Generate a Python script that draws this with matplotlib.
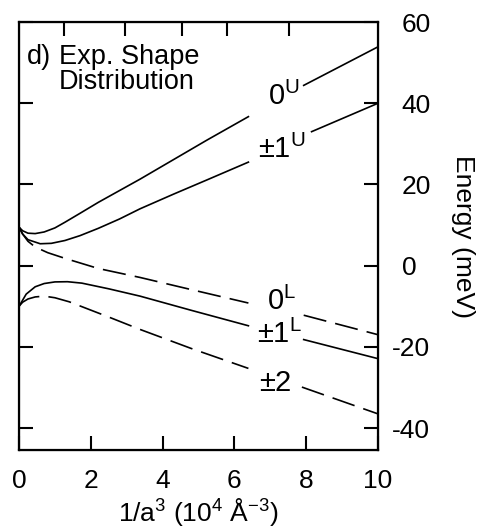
import numpy as np
import matplotlib
matplotlib.use("Agg")
import matplotlib.pyplot as plt
from matplotlib.transforms import ScaledTranslation

plt.rcParams["font.family"] = ["Liberation Sans", "DejaVu Sans"]
plt.rcParams["mathtext.default"] = "regular"
plt.rcParams["axes.unicode_minus"] = False

# curves; each curve is broken where its label sits
x_0u_a = [0, 0.1, 0.25, 0.45, 0.7, 1.0, 1.28, 1.7, 2.21, 2.8, 3.37, 4.3, 5.23, 6.39]
y_0u_a = [9.5, 8.6, 8.0, 7.9, 8.3, 9.3, 10.7, 12.9, 15.6, 18.5, 21.3, 26.1, 30.9, 36.7]
x_0u_b = [7.93, 10.0]
y_0u_b = [44.4, 53.9]

x_1u_a = [0, 0.1, 0.25, 0.59, 0.9, 1.28, 1.7, 2.21, 2.8, 3.37, 4.3, 5.23, 6.39]
y_1u_a = [9.5, 7.8, 6.4, 5.4, 5.5, 6.2, 7.4, 9.2, 11.5, 14.0, 17.6, 21.1, 25.5]
x_1u_b = [8.15, 10.0]
y_1u_b = [33.0, 40.0]

x_0l_a = [0, 0.1, 0.25, 0.45, 0.8, 1.28, 2.21, 3.37, 4.8, 6.39]
y_0l_a = [9.5, 7.8, 6.0, 4.6, 3.2, 1.8, -0.7, -2.9, -5.9, -9.2]
x_0l_b = [7.93, 10.0]
y_0l_b = [-12.2, -17.0]

x_1l_a = [0, 0.08, 0.2, 0.45, 0.7, 1.0, 1.35, 1.75, 2.5, 3.37, 4.8, 6.39]
y_1l_a = [-10.0, -8.8, -7.0, -5.2, -4.4, -4.0, -3.95, -4.3, -5.7, -7.5, -11.0, -14.8]
x_1l_b = [7.93, 10.0]
y_1l_b = [-18.2, -22.9]

x_2_a = [0, 0.1, 0.25, 0.45, 0.7, 1.0, 1.4, 1.84, 2.6, 3.37, 4.8, 6.39]
y_2_a = [-10.0, -9.0, -8.2, -7.7, -7.5, -7.9, -8.9, -10.4, -13.0, -15.7, -20.4, -25.3]
x_2_b = [7.88, 10.0]
y_2_b = [-29.9, -36.5]

curve_labels = [r"$0^{U}$", r"$\pm1^{U}$", r"$0^{L}$", r"$\pm1^{L}$", r"$\pm2$"]
label_x = [7.38, 7.33, 7.3, 7.25, 7.13]
label_y = [41.8, 28.6, -8.7, -17.0, -28.9]

y_ticks = [-40, -20, 0, 20, 40, 60]
x_ticks = [0, 2, 4, 6, 8, 10]
top_a = [20, 15, 13, 12, 11]  # lattice constant a (Angstrom) marked on top axis

fig = plt.figure(figsize=(4.84, 5.31), dpi=100)
ax = fig.add_axes([0.0393, 0.1525, 0.7417, 0.806])

lw = 1.2
dash = (0, (14, 5.5))
ax.plot(x_0u_a, y_0u_a, color="black", lw=lw)
ax.plot(x_0u_b, y_0u_b, color="black", lw=lw)
ax.plot(x_1u_a, y_1u_a, color="black", lw=lw)
ax.plot(x_1u_b, y_1u_b, color="black", lw=lw)
ax.plot(x_0l_a, y_0l_a, color="black", lw=lw, linestyle=dash)
ax.plot(x_0l_b, y_0l_b, color="black", lw=lw, linestyle=dash)
ax.plot(x_1l_a, y_1l_a, color="black", lw=lw)
ax.plot(x_1l_b, y_1l_b, color="black", lw=lw)
ax.plot(x_2_a, y_2_a, color="black", lw=lw, linestyle=dash)
ax.plot(x_2_b, y_2_b, color="black", lw=lw, linestyle=dash)

for txt, lx, ly in zip(curve_labels, label_x, label_y):
    ax.text(lx, ly, txt, fontsize=21, ha="center", va="center")

ax.text(0.022, 0.948, "d)", transform=ax.transAxes, fontsize=19.5, va="top")
ax.text(0.112, 0.948, "Exp. Shape\nDistribution", transform=ax.transAxes,
        fontsize=19.5, va="top", linespacing=0.95)

ax.set_xlim(0, 10)
ax.set_ylim(-45.4, 60)
ax.set_xticks(x_ticks)
ax.set_yticks(y_ticks)
ax.tick_params(axis="x", direction="in", length=10, width=1.5, labelsize=19, pad=14)
ax.tick_params(axis="y", direction="in", length=10, width=1.5, labelsize=19,
               left=True, right=True, labelleft=False, labelright=True, pad=17)
ax.set_xlabel(r"1/a$^3$ (10$^4$ Å$^{-3}$)", fontsize=19, labelpad=2)
ax.yaxis.set_label_position("right")
ax.set_ylabel("Energy (meV)", fontsize=19, rotation=270, labelpad=32)
for s in ax.spines.values():
    s.set_linewidth(1.6)

# negative labels: hang the minus sign left of the digits
for tick, v in zip(ax.yaxis.get_major_ticks(len(y_ticks)), y_ticks):
    if v < 0:
        tick.label2.set_transform(tick.label2.get_transform()
                                  + ScaledTranslation(-10 / 100, 0, fig.dpi_scale_trans))

top = ax.twiny()
top.set_xlim(ax.get_xlim())
top.set_xticks([1e4 / a ** 3 for a in top_a])
top.tick_params(axis="x", direction="in", length=10, width=1.5, labeltop=False)

fig.savefig("out.png", dpi=100)
